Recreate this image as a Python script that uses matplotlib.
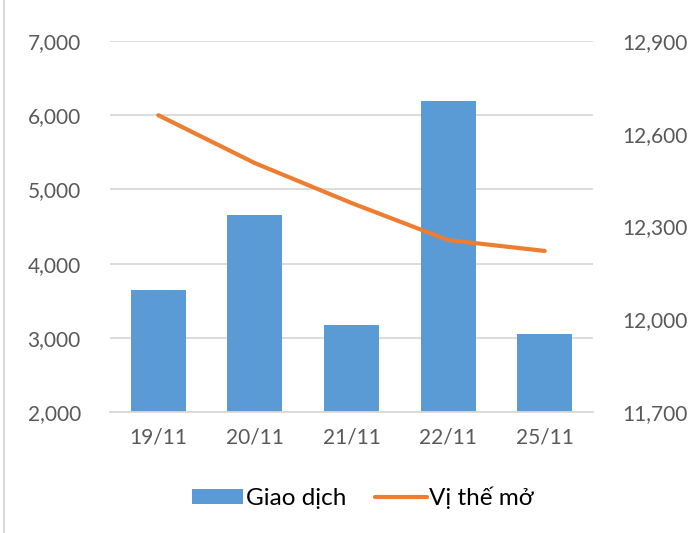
import matplotlib
import matplotlib.pyplot as plt
from matplotlib.ticker import FuncFormatter

matplotlib.use("Agg")

# Data
dates = ["19/11", "20/11", "21/11", "22/11", "25/11"]
giao_dich = [3650, 4655, 3175, 6190, 3055]
vi_the_mo = [12660, 12505, 12376, 12256, 12221]

left_ticks = [2000, 3000, 4000, 5000, 6000, 7000]
right_ticks = [11700, 12000, 12300, 12600, 12900]

plt.rcParams["font.family"] = ["Lato", "DejaVu Sans"]
text_gray = "#595959"
grid_gray = "#d9d9d9"

fig = plt.figure(figsize=(6.91, 5.33), dpi=100)
ax = fig.add_axes([110 / 691, 1 - 412 / 533, 483 / 691, 371 / 533])
x = list(range(len(dates)))

ax.bar(x, giao_dich, width=0.57, color="#5b9bd5", label="Giao dịch", zorder=2)
ax.set_ylim(2000, 7000)
ax.set_yticks(left_ticks)
ax.set_xlim(-0.5, len(dates) - 0.5)
ax.set_xticks(x)
ax.set_xticklabels(dates)
ax.grid(axis="y", color=grid_gray, linewidth=1.3, zorder=0)
ax.yaxis.set_major_formatter(FuncFormatter(lambda v, p: f"{int(v):,}"))

ax2 = ax.twinx()
ax2.plot(x, vi_the_mo, color="#ed7d31", linewidth=3, label="Vị thế mở",
         solid_capstyle="round")
ax2.set_ylim(11700, 12900)
ax2.set_yticks(right_ticks)
ax2.yaxis.set_major_formatter(FuncFormatter(lambda v, p: f"{int(v):,}"))

for a in (ax, ax2):
    for s in a.spines.values():
        s.set_visible(False)
    a.tick_params(length=0, labelsize=15, colors=text_gray)
ax.spines["bottom"].set_visible(True)
ax.spines["bottom"].set_color(grid_gray)
ax.spines["bottom"].set_linewidth(1.3)
ax.tick_params(axis="y", pad=21)
ax.tick_params(axis="x", pad=11)
ax2.tick_params(axis="y", pad=21)

# left border line of the chart frame
fig.add_artist(plt.Line2D([4 / 691, 4 / 691], [0, 1], color="#d9d9d9",
                          linewidth=1.5, transform=fig.transFigure))

h1, l1 = ax.get_legend_handles_labels()
h2, l2 = ax2.get_legend_handles_labels()
fig.legend(h1 + h2, l1 + l2, loc="center", bbox_to_anchor=(363 / 691, 1 - 498 / 533),
           ncol=2, frameon=False, fontsize=17.5, handlelength=2.1, handleheight=0.6,
           columnspacing=1.2, handletextpad=0.1)

fig.savefig("out.png", dpi=100)
